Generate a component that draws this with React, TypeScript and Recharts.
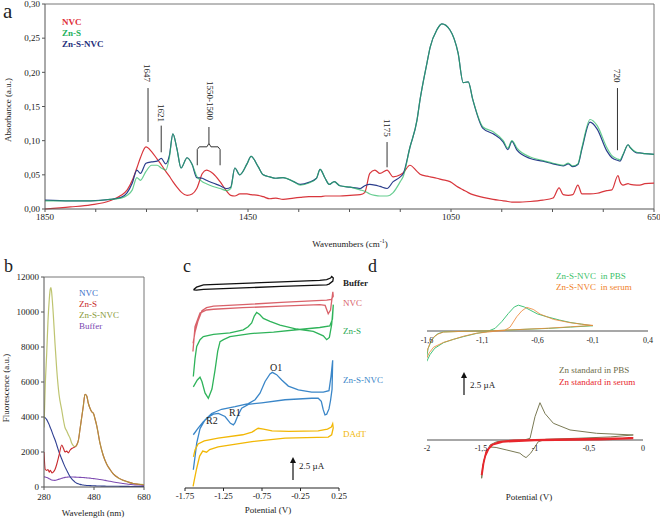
import React from 'react'
import { LineChart, Line, XAxis, YAxis, ReferenceLine, ReferenceDot } from 'recharts'

// ---------- a : FTIR spectra ----------
const wavenumbers = [
  1850, 1800, 1760, 1722, 1700, 1688, 1678, 1669, 1662, 1651,
  1640, 1629, 1621, 1612, 1605, 1598, 1590, 1582, 1570, 1560,
  1551, 1540, 1532, 1519, 1505, 1492, 1484, 1476, 1466, 1452,
  1444, 1430, 1420, 1407, 1395, 1381, 1360, 1347, 1330, 1315,
  1308, 1298, 1290, 1280, 1269, 1249, 1229, 1220, 1210, 1200,
  1190, 1176, 1164, 1150, 1144, 1131, 1117, 1111, 1097, 1091,
  1078, 1068, 1052, 1036, 1026, 1016, 1007, 987, 967, 947,
  938, 930, 920, 894, 869, 849, 837, 829, 819, 810,
  800, 792, 776, 762, 743, 733, 721, 717, 711, 701,
  697, 684, 678, 668, 650,
]
const nvcAbs = [
  0.000, 0.003, 0.006, 0.012, 0.020, 0.028, 0.042, 0.060, 0.075, 0.091,
  0.084, 0.073, 0.065, 0.055, 0.048, 0.040, 0.032, 0.025, 0.020, 0.022,
  0.030, 0.052, 0.057, 0.052, 0.040, 0.026, 0.020, 0.019, 0.022, 0.022,
  0.021, 0.020, 0.018, 0.015, 0.016, 0.014, 0.016, 0.017, 0.018, 0.018,
  0.018, 0.019, 0.019, 0.019, 0.019, 0.020, 0.021, 0.024, 0.052, 0.057,
  0.052, 0.057, 0.047, 0.050, 0.053, 0.064, 0.055, 0.051, 0.048, 0.047,
  0.045, 0.043, 0.040, 0.032, 0.028, 0.024, 0.021, 0.017, 0.014, 0.012,
  0.011, 0.010, 0.010, 0.011, 0.013, 0.016, 0.031, 0.021, 0.020, 0.021,
  0.035, 0.022, 0.022, 0.023, 0.027, 0.028, 0.049, 0.040, 0.035, 0.037,
  0.036, 0.035, 0.035, 0.037, 0.038,
]
const znsAbs = [
  0.012, 0.012, 0.012, 0.014, 0.016, 0.020, 0.028, 0.046, 0.042, 0.055,
  0.064, 0.064, 0.060, 0.057, 0.075, 0.110, 0.088, 0.060, 0.075, 0.065,
  0.048, 0.040, 0.037, 0.033, 0.030, 0.027, 0.030, 0.060, 0.050, 0.066,
  0.077, 0.062, 0.050, 0.047, 0.045, 0.046, 0.040, 0.035, 0.038, 0.045,
  0.058, 0.045, 0.036, 0.040, 0.034, 0.032, 0.028, 0.026, 0.022, 0.020,
  0.019, 0.019, 0.024, 0.040, 0.048, 0.090, 0.130, 0.160, 0.215, 0.237,
  0.262, 0.271, 0.262, 0.228, 0.185, 0.186, 0.160, 0.120, 0.113, 0.100,
  0.089, 0.100, 0.089, 0.076, 0.071, 0.067, 0.065, 0.064, 0.067, 0.063,
  0.066, 0.090, 0.131, 0.122, 0.090, 0.078, 0.073, 0.072, 0.080, 0.094,
  0.090, 0.083, 0.082, 0.081, 0.080,
]
const znsNvcAbs = [
  0.013, 0.012, 0.012, 0.014, 0.017, 0.024, 0.038, 0.057, 0.052, 0.067,
  0.069, 0.070, 0.074, 0.066, 0.078, 0.110, 0.088, 0.060, 0.075, 0.065,
  0.046, 0.045, 0.042, 0.038, 0.034, 0.030, 0.032, 0.060, 0.050, 0.066,
  0.077, 0.062, 0.050, 0.047, 0.045, 0.046, 0.040, 0.036, 0.039, 0.045,
  0.058, 0.045, 0.036, 0.040, 0.034, 0.032, 0.030, 0.034, 0.036, 0.035,
  0.033, 0.030, 0.040, 0.047, 0.052, 0.090, 0.130, 0.160, 0.215, 0.237,
  0.262, 0.271, 0.262, 0.228, 0.185, 0.186, 0.160, 0.118, 0.110, 0.098,
  0.087, 0.099, 0.086, 0.074, 0.070, 0.066, 0.064, 0.063, 0.066, 0.062,
  0.065, 0.088, 0.127, 0.117, 0.085, 0.075, 0.071, 0.070, 0.079, 0.094,
  0.090, 0.082, 0.082, 0.081, 0.080,
]
const ftirTicksX = [1850, 1750, 1650, 1550, 1450, 1350, 1250, 1150, 1050, 950, 850, 750, 650]
const ftirLabelsX = [1850, 1450, 1050, 650]
const ftirTicksY = [0, 0.05, 0.1, 0.15, 0.2, 0.25, 0.3]

// peak markers (wavenumber, absorbance range of the leader line)
const peakMarks = [
  { x: 1647, y0: 0.098, y1: 0.177 },
  { x: 1621, y0: 0.083, y1: 0.122 },
  { x: 1176, y0: 0.061, y1: 0.098 },
  { x: 722, y0: 0.086, y1: 0.177 },
]
const braceSegs = [
  [1550, 0.064, 1550, 0.087], [1550, 0.087, 1546, 0.091], [1546, 0.091, 1531, 0.091],
  [1531, 0.091, 1527, 0.096], [1527, 0.096, 1527, 0.12], [1527, 0.096, 1523, 0.091],
  [1523, 0.091, 1509, 0.091], [1509, 0.091, 1505, 0.087], [1505, 0.087, 1505, 0.064],
]

// ---------- b : fluorescence ----------
const wavelengths = [
  280, 285, 291, 296, 301, 305, 308, 312, 317, 324,
  331, 340, 351, 358, 364, 371, 377, 384, 391, 398,
  404, 411, 418, 424, 431, 437, 444, 451, 457, 464,
  471, 478, 484, 491, 504, 517, 531, 544, 557, 577,
  597, 617, 637, 657, 680,
]
const nvcFl = [
  4000, 3950, 3850, 3700, 3550, 3400, 3300, 3150, 2950, 2700,
  2400, 2000, 1600, 1350, 1150, 950, 780, 600, 470, 360,
  280, 220, 180, 150, 130, 115, 100, 90, 85, 80,
  75, 70, 65, 60, 55, 50, 45, 45, 40, 40,
  35, 35, 30, 30, 30,
]
const znsFl = [
  2000, 1000, 950, 1000, 850, 950, 900, 800, 850, 1000,
  1300, 1800, 2400, 2200, 2000, 2050, 1950, 2100, 2200, 2250,
  2300, 2400, 2700, 3300, 4000, 4600, 5300, 5200, 4800, 4500,
  4300, 4200, 3900, 3500, 2500, 1800, 1300, 1000, 750, 520,
  380, 280, 200, 160, 130,
]
const znsNvcFl = [
  3400, 5800, 7700, 9500, 10700, 11300, 11400, 10900, 9900, 8200,
  6700, 5300, 4400, 3800, 3400, 3200, 3000, 2800, 2500, 2350,
  2300, 2400, 2700, 3300, 4000, 4600, 5300, 5200, 4800, 4500,
  4300, 4200, 3900, 3500, 2500, 1800, 1300, 1000, 750, 520,
  380, 280, 200, 160, 130,
]
const bufferFl = [
  580, 570, 540, 510, 470, 440, 420, 400, 385, 380,
  400, 450, 500, 530, 550, 560, 570, 570, 570, 568,
  565, 560, 555, 550, 545, 540, 530, 520, 515, 505,
  490, 480, 470, 455, 430, 400, 360, 325, 290, 240,
  200, 160, 130, 110, 90,
]
const flTicksX = [280, 480, 680]
const flTicksY = [0, 2000, 4000, 6000, 8000, 10000, 12000]

// ---------- c : stacked voltammograms (offset current, uA) ----------
const bufferCvE = [-1.64, -1.6, -1.51, -1.0, -0.5, 0.0, 0.09, 0.14, 0.155, 0.176, 0.17, 0.12, 0.09, -0.5, -1.0, -1.51, -1.6, -1.64]
const bufferCvI = [26.05, 26.4, 26.7, 26.9, 27.1, 27.3, 27.4, 27.6, 27.8, 27.6, 27.2, 26.8, 26.7, 26.5, 26.3, 26.1, 26.0, 26.05]
const nvcCvE = [-1.647, -1.62, -1.555, -1.47, -1.38, -1.0, -0.5, 0.0, 0.07, 0.11, 0.14, 0.16, 0.17, 0.175, 0.15, 0.09, -0.5, -1.0, -1.38, -1.47, -1.53, -1.58, -1.62, -1.645]
const nvcCvI = [17.95, 21.2, 23.0, 23.4, 23.5, 23.7, 23.9, 24.1, 24.0, 22.9, 23.4, 25.0, 25.8, 25.2, 24.8, 24.7, 24.4, 24.1, 23.9, 23.7, 23.3, 22.0, 20.5, 19.0]
const znsCvE = [
  -1.642, -1.62, -1.598, -1.555, -1.512, -1.38, -1.166, -0.993, -0.93, -0.884,
  -0.85, -0.819, -0.78, -0.733, -0.646, -0.516, -0.3, -0.084, 0.046, 0.09,
  0.125, 0.155, 0.176, 0.165, 0.13, 0.0, -0.3, -0.6, -0.9, -1.166,
  -1.25, -1.295, -1.325, -1.36, -1.4, -1.447, -1.49, -1.53, -1.555, -1.59,
  -1.642,
]
const znsCvI = [
  14.65, 17.0, 18.6, 19.5, 19.9, 20.2, 20.4, 20.8, 21.2, 21.7,
  22.6, 23.07, 22.8, 22.3, 21.9, 21.4, 20.9, 20.6, 20.0, 19.5,
  19.8, 21.5, 24.1, 22.2, 21.3, 21.1, 20.8, 20.5, 20.3, 19.9,
  19.5, 19.25, 18.0, 15.5, 13.0, 11.8, 12.5, 14.0, 14.56, 14.2,
  13.3,
]
const znsNvcCvE = [
  -1.642, -1.62, -1.598, -1.555, -1.49, -1.404, -1.274, -1.1, -0.927, -0.84,
  -0.776, -0.71, -0.646, -0.616, -0.56, -0.494, -0.408, -0.278, -0.105, 0.046,
  0.12, 0.146, 0.168, 0.16, 0.14, 0.12, 0.09, 0.068, 0.045, 0.02,
  -0.02, -0.105, -0.451, -0.754, -0.927, -1.014, -1.06, -1.1, -1.122, -1.16,
  -1.23, -1.317, -1.382, -1.447, -1.512, -1.577, -1.642,
]
const znsNvcCvI = [
  2.4, 4.1, 5.9, 7.8, 8.95, 9.8, 10.35, 10.7, 11.1, 11.6,
  12.46, 14.0, 15.0, 15.2, 14.9, 14.2, 13.4, 12.9, 12.6, 12.6,
  12.8, 14.65, 16.8, 13.0, 11.5, 10.4, 9.7, 9.6, 10.3, 11.4,
  11.8, 11.8, 11.6, 11.2, 11.0, 10.5, 9.6, 8.6, 8.3, 8.5,
  9.4, 9.8, 9.7, 9.3, 8.7, 7.9, 7.0,
]
const dadtCvE = [
  -1.64, -1.62, -1.58, -1.5, -1.32, -1.0, -0.88, -0.8, -0.73, -0.62,
  -0.4, -0.02, 0.1, 0.15, 0.168, 0.175, 0.155, 0.11, -0.45, -0.88,
  -1.32, -1.43, -1.47, -1.52, -1.56, -1.6, -1.63, -1.645,
]
const dadtCvI = [
  4.1, 5.0, 5.8, 6.2, 6.55, 7.0, 7.35, 7.85, 7.75, 7.5,
  7.45, 7.5, 7.75, 8.0, 8.45, 7.9, 7.0, 6.7, 6.55, 6.1,
  5.4, 5.05, 4.7, 4.85, 4.2, 2.5, 1.0, 0.2,
]
const cvTicksC = [-1.75, -1.25, -0.75, -0.25, 0.25]

// ---------- d : Zn-S-NVC vs Zn standard ----------
const pbsCvE = [
  -1.603, -1.573, -1.53, -1.45, -1.36, -1.27, -1.15, -1.06, -0.984, -0.924,
  -0.864, -0.81, -0.773, -0.72, -0.667, -0.6, -0.516, -0.4, -0.305, -0.2,
  -0.1, -0.3, -0.5, -0.74, -1.0, -1.3, -1.45, -1.5, -1.53, -1.56,
  -1.59, -1.605,
]
const pbsCvI = [
  -3.5, -2.7, -1.97, -1.33, -0.95, -0.64, -0.27, -0.08, 0.3, 1.06,
  2.0, 2.75, 2.95, 2.75, 2.39, 1.95, 1.63, 1.25, 0.98, 0.78,
  0.6, 0.45, 0.3, 0.18, 0.03, -0.05, -0.1, -0.3, -0.6, -1.1,
  -2.0, -3.2,
]
const serumCvE = [
  -1.61, -1.58, -1.54, -1.45, -1.36, -1.27, -1.15, -1.0, -0.9, -0.848,
  -0.788, -0.742, -0.697, -0.637, -0.576, -0.456, -0.305, -0.2, -0.1, -0.3,
  -0.5, -0.8, -1.0, -1.3, -1.45, -1.5, -1.54, -1.57, -1.6, -1.612,
]
const serumCvI = [
  -3.3, -2.5, -1.85, -1.3, -0.95, -0.6, -0.25, -0.05, 0.05, 0.45,
  1.63, 2.3, 2.7, 2.46, 1.93, 1.33, 0.95, 0.78, 0.64, 0.48,
  0.32, 0.15, 0.03, -0.05, -0.12, -0.35, -0.7, -1.3, -2.3, -3.3,
]
const znPbsE = [
  -1.494, -1.485, -1.463, -1.417, -1.355, -1.2, -1.1, -1.046, -1.0, -0.954,
  -0.907, -0.83, -0.676, -0.43, -0.09, -0.3, -0.6, -0.9, -0.97, -1.0,
  -1.04, -1.083, -1.11, -1.14, -1.26, -1.36, -1.41, -1.447, -1.47, -1.485,
  -1.494,
]
const znPbsI = [
  -4.35, -3.0, -1.9, -0.57, -0.19, -0.05, 0.0, 0.19, 2.65, 4.24,
  3.0, 1.9, 1.14, 0.76, 0.57, 0.35, 0.2, 0.08, -0.2, -0.76,
  -1.5, -2.0, -1.8, -1.5, -1.14, -0.85, -0.8, -1.14, -2.2, -3.3,
  -4.35,
]
const znSerumE = [-1.494, -1.48, -1.46, -1.43, -1.39, -1.33, -1.2, -0.8, -0.4, -0.09, -0.4, -1.0, -1.3, -1.4, -1.45, -1.475, -1.49]
const znSerumI = [-4.0, -2.8, -1.8, -1.0, -0.5, -0.2, -0.05, 0.08, 0.15, 0.2, 0.05, -0.05, -0.2, -0.55, -1.3, -2.5, -3.8]
const dTopTicks = [-1.6, -1.1, -0.6, -0.1, 0.4]
const dBottomTicks = [-2, -1.5, -1, -0.5, 0]

const serif = '"Liberation Serif", "Times New Roman", serif'
const tickStyle = { fontSize: 9, fill: '#222', fontFamily: serif }
const axisStroke = { stroke: '#555' }

const loop = (e: number[], i: number[]) => e.map((v, k) => ({ e: v, i: i[k] }))
const comma = (v: number) => String(v).replace('.', ',')

const ftirData = wavenumbers.map((w, k) => ({ w, nvc: nvcAbs[k], zns: znsAbs[k], znsNvc: znsNvcAbs[k] }))
const flData = wavelengths.map((l, k) => ({ l, nvc: nvcFl[k], zns: znsFl[k], znsNvc: znsNvcFl[k], buffer: bufferFl[k] }))

function Txt({ x, y, size = 9, color = '#222', bold = false, anchor = 'start', children }: any) {
  const tx = anchor === 'middle' ? '-50%' : anchor === 'end' ? '-100%' : '0'
  return (
    <div style={{
      position: 'absolute', left: x, top: y, transform: `translate(${tx}, -50%)`,
      fontFamily: serif, fontSize: size, color, fontWeight: bold ? 700 : 400,
      whiteSpace: 'pre', lineHeight: 1,
    }}>{children}</div>
  )
}

function VTxt({ x, y, size = 9, children }: any) {
  return (
    <div style={{
      position: 'absolute', left: x, top: y, transform: 'translateX(-50%)',
      writingMode: 'vertical-rl', fontFamily: serif, fontSize: size, color: '#222',
      lineHeight: 1, whiteSpace: 'pre',
    }}>{children}</div>
  )
}

function RotTxt({ x, y, size = 9, children }: any) {
  return (
    <div style={{
      position: 'absolute', left: x, top: y, transform: 'translate(-50%, -50%) rotate(-90deg)',
      fontFamily: serif, fontSize: size, color: '#222', lineHeight: 1, whiteSpace: 'pre',
    }}>{children}</div>
  )
}

function ScaleArrow({ x, top, bottom }: any) {
  return (
    <svg style={{ position: 'absolute', left: x - 4, top: top - 1 }} width={8} height={bottom - top + 2}>
      <line x1={4} y1={5} x2={4} y2={bottom - top + 1} stroke="#111" strokeWidth={1.2} />
      <polygon points={`4,1 1,7 7,7`} fill="#111" />
    </svg>
  )
}

function FtirPanel() {
  return (
    <div style={{ position: 'absolute', left: 0, top: 0 }}>
      <LineChart width={660} height={250} data={ftirData} margin={{ top: 4, right: 6, left: 0, bottom: 21 }}>
        <XAxis type="number" dataKey="w" domain={[650, 1850]} reversed allowDataOverflow
          ticks={ftirTicksX} interval={0} tickFormatter={(v) => (ftirLabelsX.includes(v) ? String(v) : '')}
          height={20} tick={tickStyle} tickSize={3} axisLine={axisStroke} tickLine={axisStroke} />
        <YAxis type="number" domain={[0, 0.3]} ticks={ftirTicksY} interval={0}
          tickFormatter={(v) => v.toFixed(2).replace('.', ',')}
          width={45} tick={tickStyle} tickSize={3} axisLine={axisStroke} tickLine={axisStroke} />
        <ReferenceLine y={0.3} stroke="#777" />
        <ReferenceLine x={650} stroke="#777" />
        {peakMarks.map((p) => (
          <ReferenceLine key={p.x} segment={[{ x: p.x, y: p.y0 }, { x: p.x, y: p.y1 }]} stroke="#333" />
        ))}
        {braceSegs.map((s, k) => (
          <ReferenceLine key={`b${k}`} segment={[{ x: s[0], y: s[1] }, { x: s[2], y: s[3] }]} stroke="#333" />
        ))}
        <Line dataKey="nvc" type="monotone" stroke="#d8363c" strokeWidth={1.2} dot={false} isAnimationActive={false} />
        <Line dataKey="znsNvc" type="monotone" stroke="#2b3d8c" strokeWidth={1.2} dot={false} isAnimationActive={false} />
        <Line dataKey="zns" type="monotone" stroke="#27b862" strokeOpacity={0.7} strokeWidth={1.2} dot={false} isAnimationActive={false} />
      </LineChart>
    </div>
  )
}

function FluorPanel() {
  return (
    <div style={{ position: 'absolute', left: 0, top: 270 }}>
      <LineChart width={156} height={240} data={flData} margin={{ top: 7, right: 12, left: 0, bottom: 3 }}>
        <XAxis type="number" dataKey="l" domain={[280, 680]} allowDataOverflow ticks={flTicksX} interval={0}
          height={20} tick={tickStyle} tickSize={3} tickMargin={4} axisLine={axisStroke} tickLine={axisStroke} />
        <YAxis type="number" domain={[0, 12000]} ticks={flTicksY} interval={0}
          width={44} tick={tickStyle} tickSize={3} axisLine={axisStroke} tickLine={axisStroke} />
        <ReferenceLine y={12000} stroke="#777" />
        <ReferenceLine x={680} stroke="#777" />
        <Line dataKey="buffer" type="monotone" stroke="#7e4cb2" strokeWidth={1.1} dot={false} isAnimationActive={false} />
        <Line dataKey="nvc" type="monotone" stroke="#2f3f92" strokeWidth={1.1} dot={false} isAnimationActive={false} />
        <Line dataKey="zns" type="monotone" stroke="#c8282c" strokeWidth={1.1} dot={false} isAnimationActive={false} />
        <Line dataKey="znsNvc" type="monotone" stroke="#a8b040" strokeOpacity={0.75} strokeWidth={1.2} dot={false} isAnimationActive={false} />
      </LineChart>
    </div>
  )
}

const cSeries = [
  { key: 'buffer', data: loop(bufferCvE, bufferCvI), color: '#111111' },
  { key: 'nvc', data: loop(nvcCvE, nvcCvI), color: '#d9626a' },
  { key: 'zns', data: loop(znsCvE, znsCvI), color: '#2fb35a' },
  { key: 'znsNvc', data: loop(znsNvcCvE, znsNvcCvI), color: '#3a86c8' },
  { key: 'dadt', data: loop(dadtCvE, dadtCvI), color: '#f2b705' },
]

function CvPanel() {
  return (
    <div style={{ position: 'absolute', left: 168, top: 270 }}>
      <LineChart width={182} height={240} margin={{ top: 5, right: 11, left: 17, bottom: 2 }}>
        <XAxis type="number" dataKey="e" domain={[-1.75, 0.25]} allowDataOverflow ticks={cvTicksC} interval={0}
          height={20} tick={tickStyle} tickSize={3} axisLine={{ stroke: '#222' }} tickLine={{ stroke: '#222' }} />
        <YAxis type="number" domain={[0, 28]} hide allowDataOverflow />
        {cSeries.map((s) => (
          <Line key={s.key} data={s.data} dataKey="i" type="linear" stroke={s.color} strokeWidth={1.3}
            dot={false} isAnimationActive={false} />
        ))}
      </LineChart>
    </div>
  )
}

function DTopPanel() {
  return (
    <div style={{ position: 'absolute', left: 420, top: 290 }}>
      <LineChart width={235} height={82} margin={{ top: 6, right: 7, left: 7, bottom: 6 }}>
        <XAxis type="number" dataKey="e" domain={[-1.6, 0.4]} hide allowDataOverflow />
        <YAxis type="number" domain={[-4, 4]} hide allowDataOverflow />
        <ReferenceLine y={0} stroke="#8a8a8a" strokeWidth={1.6} />
        {dTopTicks.map((t) => (
          <ReferenceDot key={t} x={t} y={0} r={0} stroke="none" fill="none"
            label={{ value: t.toFixed(1).replace('.', ','), position: 'bottom', offset: 6, ...tickStyle, fontSize: 8 }} />
        ))}
        <Line data={loop(pbsCvE, pbsCvI)} dataKey="i" type="linear" stroke="#43c47a" strokeWidth={1} dot={false} isAnimationActive={false} />
        <Line data={loop(serumCvE, serumCvI)} dataKey="i" type="linear" stroke="#ef8a3c" strokeOpacity={0.85} strokeWidth={1} dot={false} isAnimationActive={false} />
      </LineChart>
    </div>
  )
}

function DBottomPanel() {
  return (
    <div style={{ position: 'absolute', left: 420, top: 390 }}>
      <LineChart width={235} height={100} margin={{ top: 6, right: 12, left: 7, bottom: 6 }}>
        <XAxis type="number" dataKey="e" domain={[-2, 0]} hide allowDataOverflow />
        <YAxis type="number" domain={[-5, 5]} hide allowDataOverflow />
        <ReferenceLine y={0} stroke="#8a8a8a" strokeWidth={1.6} />
        {dBottomTicks.map((t) => (
          <ReferenceDot key={t} x={t} y={0} r={0} stroke="none" fill="none"
            label={{ value: comma(t), position: 'bottom', offset: 5, ...tickStyle, fontSize: 8 }} />
        ))}
        <Line data={loop(znPbsE, znPbsI)} dataKey="i" type="linear" stroke="#7a7a55" strokeWidth={1} dot={false} isAnimationActive={false} />
        <Line data={loop(znSerumE, znSerumI)} dataKey="i" type="linear" stroke="#e8262c" strokeWidth={1.8} dot={false} isAnimationActive={false} />
      </LineChart>
    </div>
  )
}

export default function App() {
  return (
    <div style={{ position: 'absolute', left: 0, top: 0, width: 660, height: 519, background: '#fff', overflow: 'hidden' }}>
      <FtirPanel />
      <FluorPanel />
      <CvPanel />
      <DTopPanel />
      <DBottomPanel />

      {/* panel letters */}
      <Txt x={3} y={11} size={21}>a</Txt>
      <Txt x={4} y={266} size={18}>b</Txt>
      <Txt x={183} y={266} size={18}>c</Txt>
      <Txt x={368} y={266} size={18}>d</Txt>

      {/* a */}
      <Txt x={62} y={22} color="#e0303a" bold>NVC</Txt>
      <Txt x={62} y={33} color="#22b05a" bold>Zn-S</Txt>
      <Txt x={62} y={44} color="#1f2f7a" bold>Zn-S-NVC</Txt>
      <RotTxt x={8} y={110}>Absorbance (a.u.)</RotTxt>
      <Txt x={350} y={243} anchor="middle">Wavenumbers (cm<sup style={{ fontSize: 6 }}>-1</sup>)</Txt>
      <VTxt x={146} y={64}>1647</VTxt>
      <VTxt x={160} y={104}>1621</VTxt>
      <VTxt x={209} y={81}>1550-1500</VTxt>
      <VTxt x={386} y={119}>1175</VTxt>
      <VTxt x={616} y={69}>720</VTxt>

      {/* b */}
      <Txt x={79} y={293} color="#3a6fc8">NVC</Txt>
      <Txt x={79} y={304} color="#c8282a">Zn-S</Txt>
      <Txt x={79} y={315} color="#8a9a3a">Zn-S-NVC</Txt>
      <Txt x={79} y={326} color="#7a46b0">Buffer</Txt>
      <RotTxt x={6} y={388}>Fluorescence (a.u.)</RotTxt>
      <Txt x={93} y={513} anchor="middle">Wavelength (nm)</Txt>

      {/* c */}
      <Txt x={343} y={283} bold>Buffer</Txt>
      <Txt x={343} y={303} color="#d9626a">NVC</Txt>
      <Txt x={343} y={331} color="#2aaa55">Zn-S</Txt>
      <Txt x={343} y={380} color="#3a86c8">Zn-S-NVC</Txt>
      <Txt x={343} y={434} color="#f2b705">DAdT</Txt>
      <Txt x={270} y={368} size={10}>O1</Txt>
      <Txt x={229} y={413} size={10}>R1</Txt>
      <Txt x={206} y={421} size={10}>R2</Txt>
      <ScaleArrow x={293} top={457} bottom={480} />
      <Txt x={299} y={466}>2.5 µA</Txt>
      <Txt x={268} y={510} anchor="middle">Potential (V)</Txt>

      {/* d */}
      <Txt x={556} y={276} color="#3cbf6a">Zn-S-NVC  in PBS</Txt>
      <Txt x={556} y={287} color="#f07f2a">Zn-S-NVC  in serum</Txt>
      <Txt x={559} y={370} color="#6b6b48">Zn standard in PBS</Txt>
      <Txt x={559} y={382} color="#e8262c">Zn standard in serum</Txt>
      <ScaleArrow x={464} top={372} bottom={395} />
      <Txt x={470} y={385}>2.5 µA</Txt>
      <Txt x={529} y={497} anchor="middle">Potential (V)</Txt>
    </div>
  )
}
